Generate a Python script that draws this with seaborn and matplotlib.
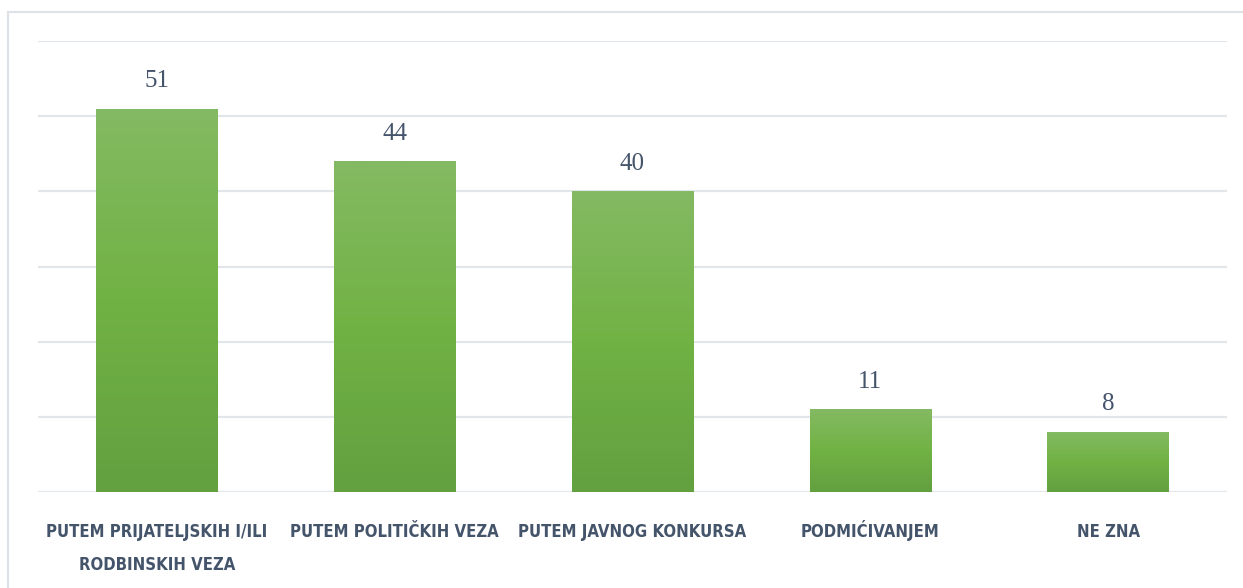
import numpy as np
import matplotlib
matplotlib.use("Agg")
import matplotlib.pyplot as plt
from matplotlib import font_manager
import matplotlib.transforms as mtrans
import seaborn as sns
import pandas as pd
from matplotlib.colors import LinearSegmentedColormap
from matplotlib.patches import Rectangle

# data
categories = ["PUTEM PRIJATELJSKIH I/ILI\nRODBINSKIH VEZA", "PUTEM POLITIČKIH VEZA",
              "PUTEM JAVNOG KONKURSA", "PODMIĆIVANJEM", "NE ZNA"]
values = [51, 44, 40, 11, 8]
y_ticks = [0, 10, 20, 30, 40, 50, 60]

df = pd.DataFrame({"cat": categories, "val": values})

sns.set_theme(style="white")
plt.rcParams["font.family"] = ["DejaVu Sans"]

# look for a narrow bold face for the category labels (the original uses a very condensed one)
narrow = None
for f in font_manager.fontManager.ttflist:
    nm = (f.name + " " + f.fname).lower()
    if ("condensed" in nm or "narrow" in nm or f.stretch in ("condensed", "semi-condensed")) \
            and f.weight in ("bold", 700, "semibold", 600):
        narrow = f.fname
        break
if narrow:
    lab_font = font_manager.FontProperties(fname=narrow, size=12)
else:
    lab_font = font_manager.FontProperties(family="DejaVu Sans", weight="bold", size=11)

txt_col = "#44546a"
grid_col = "#e2e6eb"

fig = plt.figure(figsize=(12.43, 5.88), dpi=100)
ax = fig.add_axes([38 / 1243, 1 - 492 / 588, (1227 - 38) / 1243, (492 - 41) / 588])

sns.barplot(data=df, x="cat", y="val", ax=ax, width=0.51, color="#70ad47", saturation=1)

ax.set_yticks(y_ticks)
ax.yaxis.grid(True, color=grid_col, lw=1.6)
ax.set_axisbelow(True)
ax.tick_params(axis="y", left=False, labelleft=False)
ax.tick_params(axis="x", bottom=False, labelbottom=False)
for s in ax.spines.values():
    s.set_visible(False)
ax.set_xlabel("")
ax.set_ylabel("")

# category names line by line, so every first line sits on the same baseline
for i, cat in enumerate(categories):
    for k, line in enumerate(cat.split("\n")):
        tr = mtrans.offset_copy(ax.get_xaxis_transform(), fig=fig, y=-45 - 33 * k, units="dots")
        ax.text(i, 0, line, transform=tr, ha="center", va="baseline",
                fontproperties=lab_font, color=txt_col, clip_on=False)

# vertical gradient per bar, like the office chart fill
grad = LinearSegmentedColormap.from_list("g", ["#62a040", "#71b244", "#84ba63"])
for p in ax.patches:
    x0, y0 = p.get_x(), p.get_y()
    w, h = p.get_width(), p.get_height()
    img = np.linspace(0, 1, 256).reshape(-1, 1)
    im = ax.imshow(img, cmap=grad, origin="lower", aspect="auto",
                   extent=[x0, x0 + w, y0, y0 + h], zorder=p.get_zorder() + 0.1)
    im.set_clip_path(p)
    p.set_edgecolor("none")

ax.set_xlim(-0.5, 4.5)
ax.set_ylim(0, 60)

ax.bar_label(ax.containers[0], labels=[str(v) for v in values], padding=12,
             fontsize=18, color=txt_col, family="Liberation Serif")

# light frame around the chart area
fig.patches.append(Rectangle((8 / 1243, -0.1), 1.2, 1 - 12 / 588 + 0.1,
                             transform=fig.transFigure, fill=False,
                             edgecolor="#dde2e8", lw=1.5))

fig.savefig("out.png", dpi=100)
